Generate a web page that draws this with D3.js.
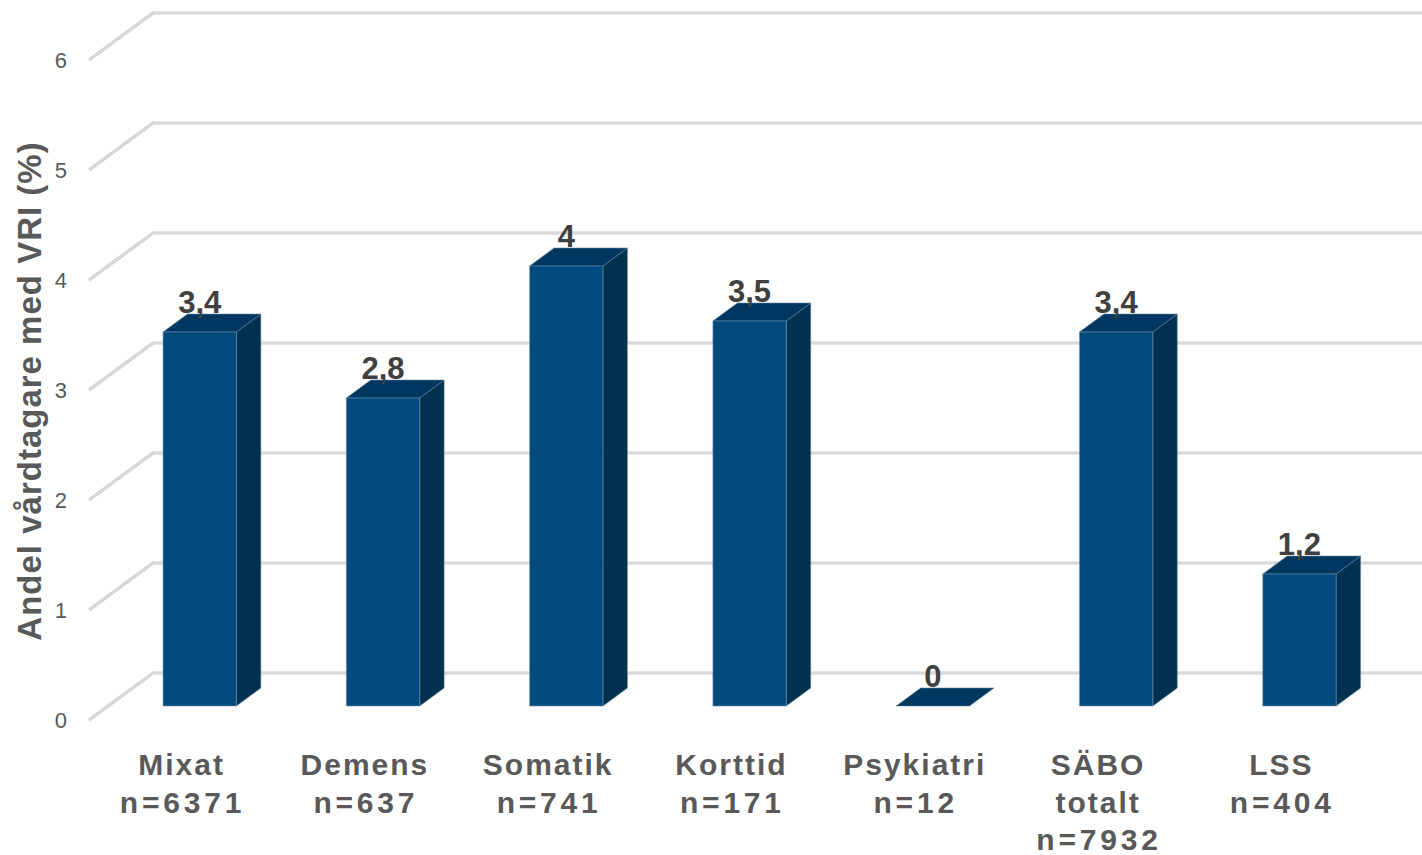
<!DOCTYPE html>
<html>
<head>
<meta charset="utf-8">
<script src="https://cdn.jsdelivr.net/npm/d3@7"></script>
<style>
  body { margin: 0; background: #fff; }
  svg { display: block; font-family: "Liberation Sans", Arial, sans-serif; }
</style>
</head>
<body>
<div id="chart"></div>
<script>
// data
const categories = ["Mixat", "Demens", "Somatik", "Korttid", "Psykiatri", "SÄBO totalt", "LSS"];
const labelLines = [["Mixat"], ["Demens"], ["Somatik"], ["Korttid"], ["Psykiatri"], ["SÄBO", "totalt"], ["LSS"]];
const nValues = [6371, 637, 741, 171, 12, 7932, 404];
const values = [3.4, 2.8, 4, 3.5, 0, 3.4, 1.2];
const yTicks = [0, 1, 2, 3, 4, 5, 6];
const yTitle = "Andel vårdtagare med VRI (%)";

const width = 1422, height = 855;

/*
   3D-ish geometry: front plane + depth offset
*/
const origin = { x: 89 };
const depth = { dx: 64, dy: -47 };
const tFront = 0.298, tBack = 0.68;

const svg = d3.select("#chart").append("svg")
  .attr("width", width).attr("height", height);

const yScale = d3.scaleLinear().domain([0, 6]).range([720, 60]);
const xScale = d3.scaleBand().domain(categories).range([0, 1283]).paddingInner(0.6).paddingOuter(0.3);

const proj = (x, v, t) => [origin.x + x + t * depth.dx, yScale(v) + t * depth.dy];

const fmt = v => String(v).replace(".", ",");

// gridlines
const gridg = svg.append("g").attr("class", "grid-g");
const gridPath = v => {
  const a = proj(0, v, 0), b = proj(0, v, 1);
  return `M${a[0]},${a[1]}L${b[0]},${b[1]}L${width + 20},${b[1]}`;
};
gridg.selectAll(".grid-outer").data(yTicks).join("path")
  .attr("class", "grid-outer")
  .attr("d", gridPath)
  .attr("fill", "none").attr("stroke", "#cccccc").attr("stroke-width", 3.2);
gridg.selectAll(".grid-inner").data(yTicks).join("path")
  .attr("class", "grid-inner")
  .attr("d", gridPath)
  .attr("fill", "none").attr("stroke", "#e8e8e8").attr("stroke-width", 1);

// y tick labels
svg.append("g").selectAll("text").data(yTicks).join("text")
  .attr("x", 67).attr("y", d => yScale(d))
  .attr("dy", "0.36em")
  .attr("text-anchor", "end")
  .attr("font-size", 22)
  .attr("fill", "#595959")
  .text(d => d);

// y title
svg.append("text")
  .attr("transform", `translate(41,391) rotate(-90)`)
  .attr("text-anchor", "middle")
  .attr("font-size", 33)
  .attr("font-weight", "bold")
  .attr("letter-spacing", 1)
  .attr("fill", "#595959")
  .text(yTitle);

const data = categories.map((c, i) => ({ c, v: values[i] }));
const bw = xScale.bandwidth();

// bars
const poly = pts => "M" + pts.map(p => p.join(",")).join("L") + "Z";
const barg = svg.append("g").attr("class", "bars-g");
const bar = barg.selectAll("g").data(data).join("g");

bar.filter(d => d.v > 0).append("path")
  .attr("d", d => {
    const x1 = xScale(d.c) + bw;
    return poly([proj(x1, 0, tFront), proj(x1, d.v, tFront), proj(x1, d.v, tBack), proj(x1, 0, tBack)]);
  })
  .attr("fill", "#00314f").attr("stroke", "#5d7f9c").attr("stroke-width", 0.6);

bar.append("path")
  .attr("d", d => {
    const x0 = xScale(d.c), x1 = x0 + bw;
    return poly([proj(x0, d.v, tFront), proj(x1, d.v, tFront), proj(x1, d.v, tBack), proj(x0, d.v, tBack)]);
  })
  .attr("fill", "#003761").attr("stroke", "#5d7f9c").attr("stroke-width", 0.6);

bar.filter(d => d.v > 0).append("path")
  .attr("d", d => {
    const x0 = xScale(d.c), x1 = x0 + bw;
    return poly([proj(x0, 0, tFront), proj(x1, 0, tFront), proj(x1, d.v, tFront), proj(x0, d.v, tFront)]);
  })
  .attr("fill", "#014a7e").attr("stroke", "#6c8fae").attr("stroke-width", 0.6);

// data labels
svg.append("g").selectAll("text").data(data).join("text")
  .attr("x", d => proj(xScale(d.c) + bw / 2, d.v, tFront)[0])
  .attr("y", d => proj(0, d.v, tBack)[1] - 1)
  .attr("text-anchor", "middle")
  .attr("font-size", 31)
  .attr("font-weight", "bold")
  .attr("fill", "#404040")
  .text(d => fmt(d.v));

// category labels
const lineY = [775, 813, 850];
const catg = svg.append("g").attr("class", "cat-g");
categories.forEach((c, i) => {
  const cx = origin.x + xScale(c) + bw / 2;
  const lines = labelLines[i].concat(["n=" + nValues[i]]);
  lines.forEach((l, j) => {
    const isN = l.startsWith("n=");
    const ls = isN ? 3.8 : 2;
    catg.append("text")
      .attr("x", cx + ls / 2)
      .attr("y", lineY[j])
      .attr("text-anchor", "middle")
      .attr("font-size", 30)
      .attr("font-weight", "bold")
      .attr("letter-spacing", ls)
      .attr("fill", "#595959")
      .text(l);
  });
});
</script>
</body>
</html>
